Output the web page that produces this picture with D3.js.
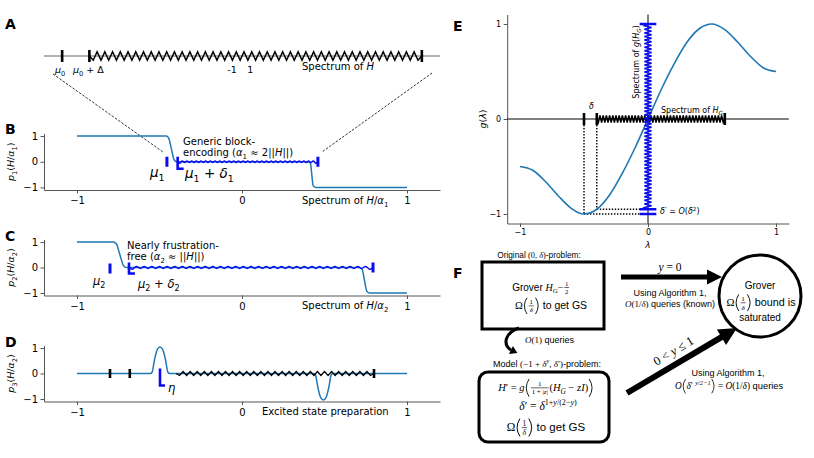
<!DOCTYPE html>
<html><head><meta charset="utf-8">
<script src="https://cdn.jsdelivr.net/npm/d3@7"></script>
<style>body{margin:0;background:#fff}svg{display:block}text,tspan{white-space:pre}</style>
</head><body>
<script>
// ---------------- data ----------------
const ticksMain = [-1, 0, 1];
// Panel A (schematic spectrum of H)
const aTicks = [-1.09, -0.925, 1.09];
const aZig = [-0.925, 1.09];
// Panel B: p1(H/alpha1)
const p1X = [-1, -0.46, -0.445, -0.428, -0.411, -0.395, 0.40, 0.415, 0.423, 0.431, 0.446, 1];
const p1Y = [1, 1, 0.93, 0.5, 0.07, 0, 0, -0.07, -0.5, -0.93, -1, -1];
const bMu = [-0.455, -0.39, 0.46];       // mu1, mu1+delta1, end of spectrum
// Panel C: p2(H/alpha2)
const p2X = [-1, -0.78, -0.762, -0.74, -0.718, -0.70, 0.71, 0.728, 0.742, 0.756, 0.775, 1];
const p2Y = [1, 1, 0.93, 0.5, 0.07, 0, 0, -0.07, -0.5, -0.93, -1, -1];
const cMu = [-0.80, -0.685, 0.794];
// Panel D: p3(H/alpha2)
const p3X = [-1, -0.555, -0.545, -0.53, -0.513, -0.497, -0.481, -0.464, -0.449, -0.439, 0.435, 0.445, 0.46, 0.477, 0.493, 0.509, 0.526, 0.541, 0.551, 1];
const p3Y = [0, 0, 0.05, 0.55, 0.95, 1.04, 0.95, 0.55, 0.05, 0, 0, -0.05, -0.55, -0.95, -1.04, -0.95, -0.55, -0.05, 0, 0];
const dTicks = [-0.80, -0.68, 0.80];
const dZig = [-0.40, 0.80];
const dEta = -0.497;
// Panel E: g(lambda)
const gX = [-1, -0.9, -0.8, -0.7, -0.6, -0.5, -0.4, -0.3, -0.2, -0.1, 0, 0.1, 0.2, 0.3, 0.4, 0.5, 0.6, 0.7, 0.8, 0.9, 1];
const gY = [-0.50, -0.54, -0.66, -0.81, -0.94, -1.00, -0.95, -0.80, -0.57, -0.30, 0, 0.30, 0.57, 0.80, 0.95, 1.00, 0.94, 0.81, 0.66, 0.54, 0.50];
const eTicks = [-0.5, -0.4, 0.6];
const eZig = [-0.4, 0.6];
const eBars = [1, -0.95, -1];
const eVZig = [-0.95, 1];

// ---------------- setup ----------------
const SANS = "DejaVu Sans", HELV = "Liberation Sans", SERIF = "Liberation Serif";
const BLUE = "#1f77b4", SPEC = "#0b0bf0";
const svg = d3.select("body").append("svg").attr("width", 814).attr("height", 458);

function addSegs(t, segs, size, pos) {
  let shift = 0;
  segs.forEach(([s, st = ""], k) => {
    const sp = t.append("tspan").text(s);
    const target = st.includes("s") ? 0.28 * size : st.includes("p") ? -0.42 * size : 0;
    if (k === 0 && pos) sp.attr("x", pos.x).attr("y", pos.y + target);
    else sp.attr("dy", target - shift);
    shift = target;
    if (st.includes("s") || st.includes("p")) sp.attr("font-size", size * 0.7);
    if (st.includes("i")) sp.attr("font-style", "italic");
    if (st.includes("h")) sp.attr("font-family", HELV);
  });
}
function rich(g, x, y, segs, o = {}) {
  const size = o.size || 9;
  const t = g.append("text").attr("x", x).attr("y", y).attr("font-size", size)
    .attr("font-family", o.font || SANS).attr("text-anchor", o.anchor || "start")
    .attr("fill", o.fill || "#000").attr("xml:space", "preserve");
  if (o.rotate) t.attr("transform", `rotate(${o.rotate},${x},${y})`);
  addSegs(t, segs, size);
  return t;
}

function zigPts(p0, p1, n, amp) {
  const dx = p1[0] - p0[0], dy = p1[1] - p0[1], L = Math.hypot(dx, dy);
  const nx = -dy / L, ny = dx / L, pts = [];
  for (let i = 0; i <= 2 * n; i++) {
    const t = i / (2 * n);
    const off = (i === 0 || i === 2 * n) ? 0 : (i % 2 ? amp : -amp);
    pts.push([p0[0] + dx * t + nx * off, p0[1] + dy * t + ny * off]);
  }
  return pts;
}
function drawZig(g, p0, p1, n, amp, color, w, curve) {
  g.append("path").attr("d", d3.line().curve(curve || d3.curveLinear)(zigPts(p0, p1, n, amp)))
    .attr("fill", "none").attr("stroke", color).attr("stroke-width", w).attr("stroke-linejoin", "miter");
}
function seg(g, x1, y1, x2, y2, color, w, dash) {
  const l = g.append("line").attr("x1", x1).attr("y1", y1).attr("x2", x2).attr("y2", y2)
    .attr("stroke", color).attr("stroke-width", w);
  if (dash) l.attr("stroke-dasharray", dash);
  return l;
}
function styleAxis(sel, fs) {
  sel.selectAll(".domain").attr("stroke", "#555").attr("stroke-width", 1);
  sel.selectAll(".tick line").attr("stroke", "#555").attr("stroke-width", 1);
  sel.selectAll(".tick text").attr("font-family", SANS).attr("font-size", fs).attr("fill", "#000");
}
function letter(x, y, s) {
  svg.append("text").attr("x", x).attr("y", y).attr("font-family", SANS).attr("font-weight", "bold")
    .attr("font-size", 14).text(s);
}

// ---------------- Panel A ----------------
const xP = d3.scaleLinear().domain([-1.2, 1.2]).range([44, 440]);
const gA = svg.append("g");
const yA = 56;
seg(gA, xP(-1.2), yA, xP(1.2), yA, "#666", 1);
drawZig(gA, [xP(aZig[0]), yA], [xP(aZig[1]), yA], 43, 4.2, "#000", 1.5);
aTicks.forEach(v => seg(gA, xP(v), yA - 6, xP(v), yA + 6, "#000", 2.6));
rich(gA, 55, 73, [["μ", "i"], ["0", "s"]], {size: 9.5});
rich(gA, 73, 73, [["μ", "i"], ["0", "s"], [" + Δ"]], {size: 9.5});
rich(gA, xP(-0.06), 73, [["-1"]], {size: 9.5, anchor: "middle"});
rich(gA, xP(0.05), 73, [["1"]], {size: 9.5, anchor: "middle"});
rich(gA, 302, 70, [["Spectrum of "], ["H", "i"]], {size: 10});
letter(5, 29, "A");
// dashed zoom lines
seg(svg, 53, 74, 163, 152, "#000", 0.8, "2.5,1.5");
seg(svg, 432, 73, 322, 152, "#000", 0.8, "2.5,1.5");

// ---------------- Panels B, C, D ----------------
function panelAxes(y, ylab, lx, ly) {
  const g = svg.append("g");
  const ax = g.append("g").attr("transform", `translate(0,${y.range()[0]})`)
    .call(d3.axisBottom(xP).tickValues(ticksMain).tickSize(3.5).tickSizeOuter(0).tickPadding(3.5).tickFormat(d3.format("d")));
  styleAxis(ax, 10);
  const ay = g.append("g").attr("transform", `translate(${xP(-1.2)},0)`)
    .call(d3.axisLeft(y).tickValues(ticksMain).tickSize(3.5).tickSizeOuter(0).tickPadding(2.5).tickFormat(d3.format("d")));
  styleAxis(ay, 10);
  rich(g, lx, ly, ylab, {size: 9.5, anchor: "middle", rotate: -90});
  return g;
}
const lineP = (xs, ys, y) => d3.line().x((d, i) => xP(xs[i])).y(d => y(d)).curve(d3.curveMonotoneX)(ys);

// B
const yB = d3.scaleLinear().domain([-1.1, 1.1]).range([190, 133.5]);
const gB = panelAxes(yB, [["p", "i"], ["1", "s"], ["("], ["H", "i"], ["/"], ["α", "i"], ["1", "s"], [")"]], 14, yB(0));
gB.append("path").attr("d", lineP(p1X, p1Y, yB)).attr("fill", "none").attr("stroke", BLUE).attr("stroke-width", 1.5);
drawZig(gB, [xP(bMu[1]), yB(0)], [xP(bMu[2]), yB(0)], 30, 2.6, SPEC, 1.5, d3.curveBasis);
seg(gB, xP(bMu[0]), yB(0) - 5, xP(bMu[0]), yB(0) + 5, SPEC, 3);
seg(gB, xP(bMu[2]), yB(0) - 5, xP(bMu[2]), yB(0) + 5, SPEC, 3);
gB.append("path").attr("d", `M${xP(bMu[1])},${yB(0) - 5}V${yB(0) + 7}H${xP(bMu[1]) + 6}`)
  .attr("fill", "none").attr("stroke", SPEC).attr("stroke-width", 2.6);
rich(gB, 150, 177, [["μ", "i"], ["1", "s"]], {size: 13.5});
rich(gB, 185, 178, [["μ", "i"], ["1", "s"], [" + "], ["δ", "i"], ["1", "s"]], {size: 13.5});
rich(gB, 183, 145, [["Generic block-"]], {size: 10});
rich(gB, 183, 156, [["encoding ("], ["α", "i"], ["1", "s"], [" ≈ 2||"], ["H", "i"], ["||)"]], {size: 10});
rich(gB, 302, 204, [["Spectrum of "], ["H", "i"], ["/"], ["α", "i"], ["1", "s"]], {size: 10});
letter(5, 134, "B");

// C
const yC = d3.scaleLinear().domain([-1.1, 1.1]).range([295.5, 239.5]);
const gC = panelAxes(yC, [["p", "i"], ["2", "s"], ["("], ["H", "i"], ["/"], ["α", "i"], ["2", "s"], [")"]], 14, yC(0));
gC.append("path").attr("d", lineP(p2X, p2Y, yC)).attr("fill", "none").attr("stroke", BLUE).attr("stroke-width", 1.5);
drawZig(gC, [xP(cMu[1]), yC(0)], [xP(cMu[2]), yC(0)], 32, 3, SPEC, 1.5, d3.curveBasis);
seg(gC, xP(cMu[0]), yC(0) - 4, xP(cMu[0]), yC(0) + 6, SPEC, 3);
seg(gC, xP(cMu[2]), yC(0) - 5, xP(cMu[2]), yC(0) + 5, SPEC, 3);
gC.append("path").attr("d", `M${xP(cMu[1])},${yC(0) - 5}V${yC(0) + 6}H${xP(cMu[1]) + 6}`)
  .attr("fill", "none").attr("stroke", SPEC).attr("stroke-width", 2.6);
rich(gC, 93, 285, [["μ", "i"], ["2", "s"]], {size: 11.5});
rich(gC, 138, 288, [["μ", "i"], ["2", "s"], [" + "], ["δ", "i"], ["2", "s"]], {size: 11.5});
rich(gC, 127, 249, [["Nearly frustration-"]], {size: 10});
rich(gC, 127, 260, [["free ("], ["α", "i"], ["2", "s"], [" ≈ ||"], ["H", "i"], ["||)"]], {size: 10});
rich(gC, 302, 309, [["Spectrum of "], ["H", "i"], ["/"], ["α", "i"], ["2", "s"]], {size: 10});
letter(5, 241, "C");

// D
const yD = d3.scaleLinear().domain([-1.1, 1.1]).range([401.5, 345.5]);
const gD = panelAxes(yD, [["p", "i"], ["3", "s"], ["("], ["H", "i"], ["/"], ["α", "i"], ["2", "s"], [")"]], 14, yD(0));
gD.append("path").attr("d", lineP(p3X, p3Y, yD)).attr("fill", "none").attr("stroke", BLUE).attr("stroke-width", 1.5);
drawZig(gD, [xP(dZig[0]), yD(0)], [xP(dZig[1]), yD(0)], 28, 2, "#000", 1.2);
dTicks.forEach(v => seg(gD, xP(v), yD(0) - 4.5, xP(v), yD(0) + 4.5, "#000", 2.6));
gD.append("path").attr("d", `M${xP(dEta)},${yD(0) - 5}V${yD(0) + 12}H${xP(dEta) + 5}`)
  .attr("fill", "none").attr("stroke", SPEC).attr("stroke-width", 2.6);
rich(gD, 168, 392, [["η", "i"]], {size: 11.5});
rich(gD, 262, 415, [["Excited state preparation"]], {size: 10});
letter(5, 347, "D");

// ---------------- Panel E ----------------
const xE = d3.scaleLinear().domain([-1.1, 1.1]).range([507.2, 788.8]);
const yE = d3.scaleLinear().domain([-1.1, 1.1]).range([223.5, 14.5]);
const gE = svg.append("g");
const axE = gE.append("g").attr("transform", `translate(0,${yE(-1.1)})`)
  .call(d3.axisBottom(xE).tickValues(ticksMain).tickSize(3.5).tickSizeOuter(0).tickPadding(2.5).tickFormat(d3.format("d")));
styleAxis(axE, 8);
const ayE = gE.append("g").attr("transform", `translate(${xE(-1.1)},0)`)
  .call(d3.axisLeft(yE).tickValues(ticksMain).tickSize(3.5).tickSizeOuter(0).tickPadding(2.5).tickFormat(d3.format("d")));
styleAxis(ayE, 8);
seg(gE, xE(-1.1), yE(0), xE(1.1), yE(0), "#000", 1);
seg(gE, xE(0), yE(1.1), xE(0), yE(-1.1), "#000", 1);
rich(gE, 486, yE(0), [["g", "i"], ["("], ["λ", "i"], [")"]], {size: 9.5, anchor: "middle", rotate: -90});
rich(gE, xE(0), 248, [["λ", "i"]], {size: 9, anchor: "middle"});
// dotted guides
const gAt = v => gY[gX.findIndex(d => Math.abs(d - v) < 1e-9)];
eTicks.slice(0, 2).forEach(v => {
  seg(gE, xE(v), yE(0), xE(v), yE(gAt(v)), "#000", 1.4, "1.4,1.6");
  seg(gE, xE(v), yE(gAt(v)), xE(0), yE(gAt(v)), "#000", 1.4, "1.4,1.6");
});
gE.append("path").attr("d", d3.line().x((d, i) => xE(gX[i])).y(d => yE(d)).curve(d3.curveMonotoneX)(gY))
  .attr("fill", "none").attr("stroke", BLUE).attr("stroke-width", 1.6);
drawZig(gE, [xE(eZig[0]), yE(0)], [xE(eZig[1]), yE(0)], 40, 3.5, "#000", 1.5);
eTicks.forEach(v => seg(gE, xE(v), yE(0) - 6, xE(v), yE(0) + 6, "#000", 2.6));
drawZig(gE, [xE(0), yE(eVZig[1])], [xE(0), yE(eVZig[0])], 52, 3.6, SPEC, 1.5);
eBars.forEach(v => seg(gE, xE(-0.065), yE(v), xE(0.065), yE(v), SPEC, 2.5));
rich(gE, 589, 109, [["δ", "i"]], {size: 8});
rich(gE, 661, 113, [["Spectrum of "], ["H", "i"], ["G", "si"]], {size: 8});
rich(gE, 660, 214, [["δ", "i"], ["′ = "], ["O", "i"], ["("], ["δ", "i"], ["2", "p"], [")"]], {size: 8});
rich(gE, 639, 62, [["Spectrum of "], ["g", "i"], ["("], ["H", "i"], ["G", "si"], [")"]], {size: 8, anchor: "middle", rotate: -90});
letter(453, 31, "E");

// ---------------- Panel F ----------------
const gF = svg.append("g");
function measure(grp, segs, fs) {
  const t = rich(grp, 0, 0, segs, {size: fs, font: SERIF});
  const w = t.node().getComputedTextLength(); t.remove(); return w;
}
function mline(x, y, items, size, anchor = "middle") {
  const grp = gF.append("g");
  let cx = 0;
  const axisY = -size * 0.3;
  items.forEach(it => {
    if (it.f) {
      const fs = size * 0.66;
      const w = Math.max(measure(grp, it.f[0], fs), measure(grp, it.f[1], fs)) + 1.5;
      const mid = cx + 0.8 + w / 2;
      const t = grp.append("text").attr("font-size", fs).attr("font-family", SERIF).attr("text-anchor", "middle").attr("xml:space", "preserve");
      addSegs(t, it.f[0], fs, {x: mid, y: axisY - 1.6});
      addSegs(t, it.f[1], fs, {x: mid, y: axisY + fs * 0.95});
      grp.append("line").attr("x1", cx + 0.8).attr("x2", cx + 0.8 + w).attr("y1", axisY).attr("y2", axisY)
        .attr("stroke", "#000").attr("stroke-width", 0.6);
      cx += w + 1.6;
    } else if (it.p) {
      const h = size * (it.h || 1.55), pw = h * 0.2;
      const x0 = cx + 1, x1 = cx + 1 + pw;
      const d = it.p === "("
        ? `M${x1},${axisY - h / 2} Q${x0 - pw * 0.6},${axisY} ${x1},${axisY + h / 2}`
        : `M${x0},${axisY - h / 2} Q${x1 + pw * 0.6},${axisY} ${x0},${axisY + h / 2}`;
      grp.append("path").attr("d", d).attr("fill", "none").attr("stroke", "#000").attr("stroke-width", size * 0.085);
      cx += pw + 2;
    } else {
      const t = rich(grp, cx, 0, it.t, {size: it.size || size, font: it.font || SERIF});
      cx += t.node().getComputedTextLength();
    }
  });
  const off = anchor === "middle" ? -cx / 2 : anchor === "end" ? -cx : 0;
  grp.attr("transform", `translate(${x + off},${y})`);
}
const omega = [{t: [["Ω"]]}, {p: "("}, {f: [[["1"]], [["δ", "i"]]]}, {p: ")"}];

letter(453, 278, "F");
// box 1
gF.append("rect").attr("x", 482).attr("y", 262).attr("width", 122).attr("height", 67)
  .attr("fill", "none").attr("stroke", "#000").attr("stroke-width", 3);
mline(539, 258, [{t: [["Original ", "h"]]}, {t: [["(0, "], ["δ", "i"], [")"]]}, {t: [["-problem:", "h"]]}], 8.3);
mline(541, 290.5, [{t: [["Grover ", "h"], ["H", "i"], ["G", "si"], ["−"]]}, {f: [[["1"]], [["2"]]]}], 10);
mline(551, 309, [...omega, {t: [[" to get GS", "h"]]}], 10.5);
// circle
gF.append("circle").attr("cx", 760).attr("cy", 296).attr("r", 41)
  .attr("fill", "none").attr("stroke", "#000").attr("stroke-width", 3);
mline(760, 288.5, [{t: [["Grover", "h"]]}], 10);
mline(761, 306, [...omega, {t: [[" bound is", "h"]]}], 10.8);
mline(760, 321, [{t: [["saturated", "h"]]}], 10);
// arrows
function arrow(x1, y1, x2, y2, w, hl, hw) {
  const L = Math.hypot(x2 - x1, y2 - y1), ux = (x2 - x1) / L, uy = (y2 - y1) / L;
  const bx = x2 - ux * hl, by = y2 - uy * hl;
  seg(gF, x1, y1, bx + ux, by + uy, "#000", w);
  gF.append("polygon").attr("points", [[x2, y2], [bx - uy * hw, by + ux * hw], [bx + uy * hw, by - ux * hw]].map(p => p.join(",")).join(" "))
    .attr("fill", "#000");
}
arrow(621, 277, 722, 277, 5, 15, 7.5);
mline(670, 271, [{t: [["y", "i"], [" = 0"]]}], 11.5);
mline(670, 296, [{t: [["Using Algorithm 1,", "h"]]}], 9);
mline(670, 307, [{t: [["O", "i"], ["(1/"], ["δ", "i"], [")"], [" queries (known)", "h"]]}], 9);
// curved arrow
gF.append("path").attr("d", "M519,328 C504,333 503,345 511,350").attr("fill", "none").attr("stroke", "#000").attr("stroke-width", 3);
(() => { const ex = 511, ey = 350, dx = 0.9, dy = 0.44; const tx = ex + dx * 7, ty = ey + dy * 7;
  gF.append("polygon").attr("points", `${tx},${ty} ${ex - dy * 4.5},${ey + dx * 4.5} ${ex + dy * 4.5},${ey - dx * 4.5}`).attr("fill", "#000"); })();
mline(525, 343, [{t: [["O", "i"], ["(1)"], [" queries", "h"]]}], 9, "start");
// box 2
mline(547, 367, [{t: [["Model ", "h"], ["(−1 + "], ["δ", "i"], ["y", "pi"], [", "], ["δ", "i"], ["′)"], ["-problem:", "h"]]}], 9);
gF.append("rect").attr("x", 479).attr("y", 372).attr("width", 130).attr("height", 70).attr("rx", 9)
  .attr("fill", "none").attr("stroke", "#000").attr("stroke-width", 3);
mline(546, 391, [{t: [["H", "i"], ["′ = "], ["g", "i"]]}, {p: "(", h: 1.7}, {f: [[["1"]], [["1 + |"], ["z", "i"], ["|"]]]},
  {t: [["("], ["H", "i"], ["G", "si"], [" − "], ["zI", "i"], [")"]]}, {p: ")", h: 1.7}], 10.5);
mline(548, 409.5, [{t: [["δ", "i"], ["′ = "], ["δ", "i"], ["1+", "p"], ["y", "pi"], ["/(2−", "p"], ["y", "pi"], [")", "p"]]}], 11.5);
mline(546, 431, [...omega, {t: [[" to get GS", "h"]]}], 11.5);
// diagonal arrow
arrow(627, 393, 737, 328, 6, 18, 9);
(() => { const t = gF.append("g").attr("transform", "translate(674,352) rotate(-31)");
  rich(t, 0, 3, [["0 < "], ["y", "i"], [" ≤ 1"]], {size: 12.5, font: SERIF, anchor: "middle"}); })();
mline(728, 376, [{t: [["Using Algorithm 1,", "h"]]}], 9);
mline(729, 389, [{t: [["O", "i"]]}, {p: "("}, {t: [["δ", "i"], ["′ ", ""], ["y/2−1", "pi"]]}, {p: ")"},
  {t: [[" = "], ["O", "i"], ["(1/"], ["δ", "i"], [")"], [" queries", "h"]]}], 9.3);
</script>
</body></html>
